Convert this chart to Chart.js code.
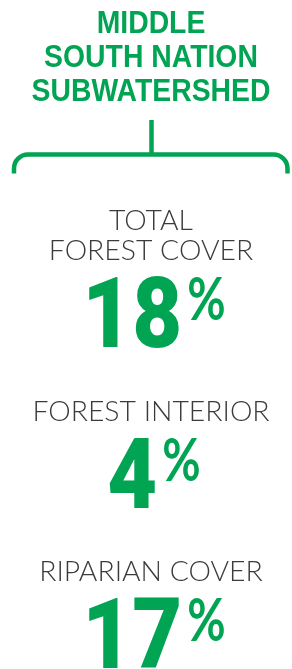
<!DOCTYPE html>
<html>
<head>
<meta charset="utf-8">
<script src="https://cdn.jsdelivr.net/npm/chart.js@4.4.1/dist/chart.umd.min.js"></script>
<style>
html,body{margin:0;padding:0;background:#ffffff;}
#wrap{position:relative;width:292px;height:669px;}
</style>
</head>
<body>
<div id="wrap"><canvas id="c"></canvas></div>
<script>
// ---- data ----
const titleLines = ['MIDDLE', 'SOUTH NATION', 'SUBWATERSHED'];
const categories = ['TOTAL FOREST COVER', 'FOREST INTERIOR', 'RIPARIAN COVER'];
const categoryLines = [['TOTAL', 'FOREST COVER'], ['FOREST INTERIOR'], ['RIPARIAN COVER']];
const values = [18, 4, 17];
const unit = '%';

// ---- styles ----
const GREEN = '#00a453';
const GREY = '#3b3b3b';

function drawText(ctx, text, x, y, font, color, sx, align) {
  ctx.save();
  ctx.font = font;
  ctx.fillStyle = color;
  ctx.textBaseline = 'alphabetic';
  ctx.textAlign = 'left';
  const w = ctx.measureText(text).width * sx;
  let x0 = x;
  if (align === 'center') x0 = x - w / 2;
  else if (align === 'right') x0 = x - w;
  ctx.translate(x0, y);
  ctx.scale(sx, 1);
  ctx.fillText(text, 0, 0);
  ctx.restore();
  return w;
}
function measure(ctx, text, font, sx) {
  ctx.save(); ctx.font = font;
  const w = ctx.measureText(text).width * sx;
  ctx.restore(); return w;
}

const infographic = {
  id: 'infographic',
  afterDatasetsDraw(chart) {
    const ctx = chart.ctx;
    const cx = 151;
    // header title
    const titleFont = 'bold 30.5px "Liberation Sans", Arial, sans-serif';
    const titleBase = [32.5, 67, 101];
    titleLines.forEach((t, i) => drawText(ctx, t, cx, titleBase[i], titleFont, GREEN, 0.93, 'center'));
    // bracket
    ctx.save();
    ctx.strokeStyle = GREEN;
    ctx.lineWidth = 4.5;
    ctx.lineCap = 'butt';
    ctx.beginPath();
    ctx.moveTo(151.5, 120);
    ctx.lineTo(151.5, 154);
    ctx.stroke();
    ctx.beginPath();
    const r = 14, yb = 154.5, xl = 14, xr = 287.5;
    ctx.moveTo(xl, 173.5);
    ctx.lineTo(xl, yb + r);
    ctx.arcTo(xl, yb, xl + r, yb, r);
    ctx.lineTo(xr - r, yb);
    ctx.arcTo(xr, yb, xr, yb + r, r);
    ctx.lineTo(xr, 173.5);
    ctx.stroke();
    ctx.restore();

    // categories + values
    const meta = chart.getDatasetMeta(0);
    const labelFont = '300 26.5px Lato, "DejaVu Sans", sans-serif';
    const numFont = '900 98px Roboto, "DejaVu Sans", sans-serif';
    const pctFont = '700 60px Lato, "DejaVu Sans", sans-serif';
    meta.data.forEach((el, i) => {
      const yc = el.y;
      const lines = categoryLines[i];
      const lastBase = yc - 51.5;
      lines.forEach((t, j) => {
        const b = lastBase - (lines.length - 1 - j) * 30.5;
        drawText(ctx, t, cx, b, labelFont, GREY, 1.07, 'center');
      });
      const numStr = String(values[i]);
      const sxN = 0.88, sxP = 0.78, gap = 5;
      const wn = measure(ctx, numStr, numFont, sxN);
      const wp = measure(ctx, unit, pctFont, sxP);
      const x0 = cx + 3 - (wn + gap + wp) / 2;
      drawText(ctx, numStr, x0, yc + 35.5, numFont, GREEN, sxN, 'left');
      drawText(ctx, unit, x0 + wn + gap, yc + 8.5, pctFont, GREEN, sxP, 'left');
    });
  }
};

new Chart(document.getElementById('c'), {
  type: 'bar',
  data: {
    labels: categories,
    datasets: [{
      label: 'Cover (%)',
      data: values,
      backgroundColor: 'rgba(0,0,0,0)',
      borderWidth: 0
    }]
  },
  options: {
    indexAxis: 'y',
    responsive: true,
    maintainAspectRatio: false,
    animation: false,
    events: [],
    layout: { padding: { top: 311.5, bottom: 36.5, left: 10, right: 0 } },
    scales: {
      x: { display: false, min: 0, max: 100 },
      y: { display: false, offset: false }
    },
    plugins: { legend: { display: false }, tooltip: { enabled: false }, title: { display: false } }
  },
  plugins: [infographic]
});
</script>
</body>
</html>
